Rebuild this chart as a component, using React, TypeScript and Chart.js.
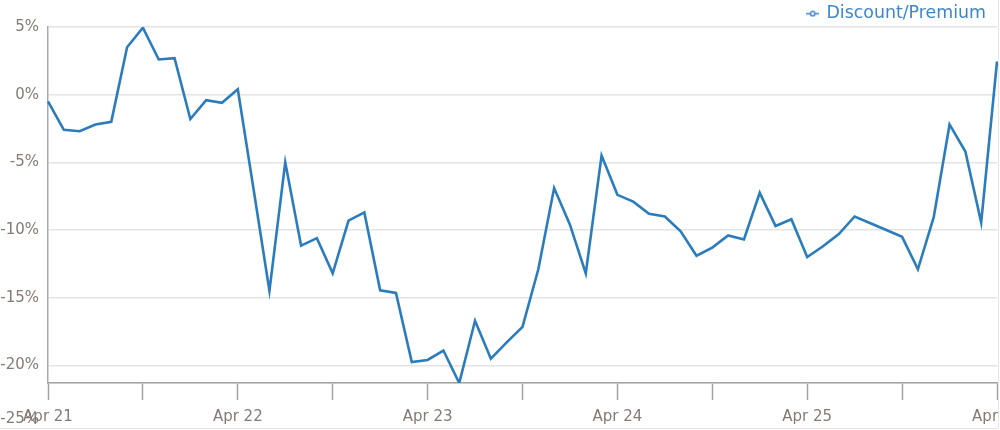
import React, { useEffect, useRef } from 'react';
import { Chart, registerables } from 'chart.js';

Chart.register(...registerables);

const CATEGORIES: string[] = [
  'Apr 21', 'May 21', 'Jun 21', 'Jul 21', 'Aug 21', 'Sep 21', 'Oct 21', 'Nov 21', 'Dec 21',
  'Jan 22', 'Feb 22', 'Mar 22', 'Apr 22', 'May 22', 'Jun 22', 'Jul 22', 'Aug 22', 'Sep 22', 'Oct 22', 'Nov 22', 'Dec 22',
  'Jan 23', 'Feb 23', 'Mar 23', 'Apr 23', 'May 23', 'Jun 23', 'Jul 23', 'Aug 23', 'Sep 23', 'Oct 23', 'Nov 23', 'Dec 23',
  'Jan 24', 'Feb 24', 'Mar 24', 'Apr 24', 'May 24', 'Jun 24', 'Jul 24', 'Aug 24', 'Sep 24', 'Oct 24', 'Nov 24', 'Dec 24',
  'Jan 25', 'Feb 25', 'Mar 25', 'Apr 25', 'May 25', 'Jun 25', 'Jul 25', 'Aug 25', 'Sep 25', 'Oct 25', 'Nov 25', 'Dec 25',
  'Jan 26', 'Feb 26', 'Mar 26', 'Apr 26',
];

const DISCOUNT_PREMIUM: number[] = [
  -0.5, -2.6, -2.7, -2.2, -2.0, 3.5, 4.95, 2.6, 2.7, -1.8, -0.4, -0.6,
  0.4, -7.0, -14.5, -5.0, -11.15, -10.6, -13.2, -9.3, -8.7, -14.45, -14.65, -19.75,
  -19.6, -18.9, -21.3, -16.7, -19.5, -18.3, -17.15, -12.9, -6.9, -9.6, -13.2, -4.5,
  -7.4, -7.9, -8.8, -9.0, -10.1, -11.9, -11.3, -10.4, -10.7, -7.25, -9.7, -9.2,
  -12.0, -11.2, -10.3, -9.0, -9.5, -10.0, -10.5, -12.9, -9.05, -2.2, -4.2, -9.45,
  2.45,
];

const SERIES_LABEL = 'Discount/Premium';
const Y_MIN = -21.3;
const Y_MAX = 5;
const Y_TICKS: number[] = [-20, -15, -10, -5, 0, 5];
const Y_BOTTOM_LABEL = '-25%';

const FONT = 'DejaVu Sans';
const TICK_COLOR = '#857a73';
const LINE_COLOR = '#2b7cbd';
const LEGEND_COLOR = '#3d87c8';

function makeMarker(color: string): HTMLCanvasElement {
  const c = document.createElement('canvas');
  c.width = 13;
  c.height = 7;
  const g = c.getContext('2d')!;
  g.strokeStyle = color;
  g.lineWidth = 1.5;
  g.beginPath();
  g.moveTo(0, 3.5);
  g.lineTo(13, 3.5);
  g.stroke();
  g.beginPath();
  g.arc(6.5, 3.5, 2.2, 0, Math.PI * 2);
  g.fillStyle = '#ffffff';
  g.fill();
  g.stroke();
  return c;
}

export default function App() {
  const ref = useRef<HTMLCanvasElement | null>(null);

  useEffect(() => {
    document.body.style.margin = '0';
    if (!ref.current) return;
    const marker = makeMarker(LEGEND_COLOR);
    const chart = new Chart(ref.current, {
      type: 'line',
      data: {
        labels: CATEGORIES,
        datasets: [
          {
            label: SERIES_LABEL,
            data: DISCOUNT_PREMIUM,
            borderColor: LINE_COLOR,
            backgroundColor: LINE_COLOR,
            borderWidth: 2.6,
            pointRadius: 0,
            pointHoverRadius: 0,
            tension: 0,
            fill: false,
          },
        ],
      },
      options: {
        responsive: false,
        animation: false,
        events: [],
        layout: { padding: { top: -6, right: 1, bottom: 0, left: 0 } },
        plugins: {
          tooltip: { enabled: false },
          legend: {
            display: true,
            position: 'top',
            align: 'end',
            maxHeight: 33,
            labels: {
              usePointStyle: true,
              pointStyle: marker as any,
              pointStyleWidth: 10,
              padding: 11,
              color: LEGEND_COLOR,
              font: { family: FONT, size: 17.4 },
            },
          },
        },
        scales: {
          x: {
            type: 'category',
            offset: false,
            grid: {
              display: true,
              drawOnChartArea: false,
              drawTicks: true,
              tickLength: 17,
              tickWidth: 1.5,
              tickColor: (ctx: any) => (ctx.index % 6 === 0 ? '#a3a3a3' : 'rgba(0,0,0,0)'),
            },
            border: { display: true, color: '#a3a3a3', width: 1.5 },
            ticks: {
              autoSkip: false,
              maxRotation: 0,
              minRotation: 0,
              padding: 8,
              color: TICK_COLOR,
              font: { family: FONT, size: 15 },
              callback: function (this: any, v: any, i: number) {
                return i % 12 === 0 ? this.getLabelForValue(v) : '';
              },
            },
            afterFit: (s: any) => {
              s.paddingRight = 0;
              s.height = 45;
            },
          },
          y: {
            type: 'linear',
            min: Y_MIN,
            max: Y_MAX,
            afterBuildTicks: (s: any) => {
              s.ticks = [Y_MIN, ...Y_TICKS].map((v) => ({ value: v }));
            },
            grid: { color: '#e4e4e4', lineWidth: 1.5, drawTicks: false },
            border: { display: true, color: '#a8a8a8', width: 1.5 },
            ticks: {
              autoSkip: false,
              padding: 9,
              color: TICK_COLOR,
              font: { family: FONT, size: 15 },
              callback: (v: any) => (v === Y_MIN ? ['', '', '', '', Y_BOTTOM_LABEL] : v + '%'),
            },
            afterFit: (s: any) => {
              s.width = 48;
              s.paddingBottom = 0;
            },
          },
        },
      },
    });
    return () => chart.destroy();
  }, []);

  return (
    <div
      style={{
        width: 998,
        height: 428,
        borderRight: '1px solid #e6e6e6',
        borderBottom: '1px solid #e6e6e6',
        overflow: 'hidden',
        background: '#ffffff',
      }}
    >
      <canvas ref={ref} width={998} height={428} style={{ display: 'block' }} />
    </div>
  );
}
